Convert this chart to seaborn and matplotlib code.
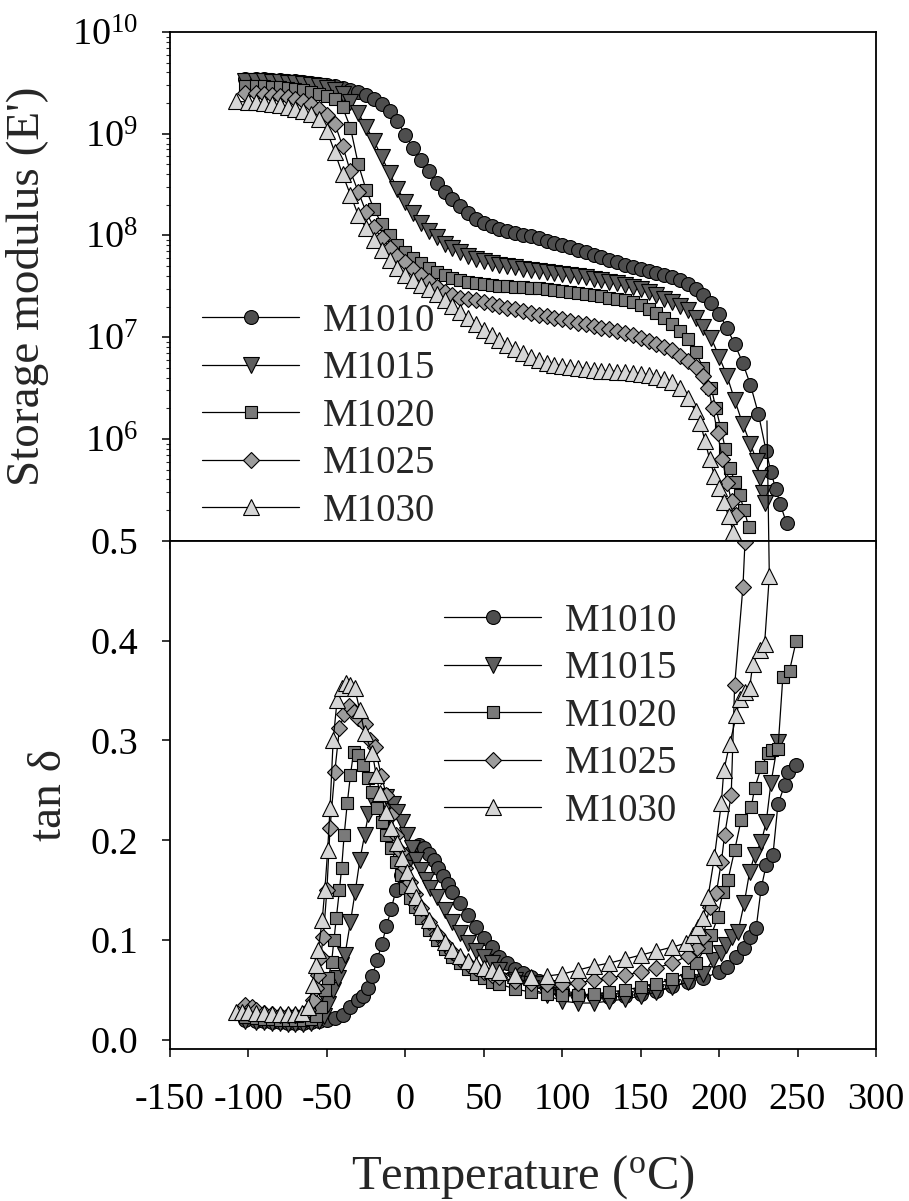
import numpy as np
import matplotlib
matplotlib.use("Agg")
import matplotlib.pyplot as plt
import seaborn as sns
from matplotlib.ticker import FixedLocator, LogLocator, NullFormatter

# ---------------- data: storage modulus (log10 of E', Pa) ----------------
series_names = ["M1010", "M1015", "M1020", "M1025", "M1030"]

t_e_m1010 = [-102, -95, -90, -85, -80, -75, -70, -65, -60, -55, -50, -45, -40, -35, -30, -25, -20, -15, -10, -5,
             0, 5, 10, 15, 20, 25, 30, 35, 40, 45, 50, 55, 60, 65, 70, 75, 80, 85, 90, 95, 100, 105, 110, 115,
             120, 125, 130, 135, 140, 145, 150, 155, 160, 165, 170, 175, 180, 185, 190, 195, 200, 205, 210, 215,
             220, 225, 230, 233, 236, 239, 243]
loge_m1010 = [9.54, 9.54, 9.54, 9.53, 9.53, 9.52, 9.52, 9.51, 9.50, 9.49, 9.48, 9.47, 9.45, 9.43, 9.41, 9.38,
              9.34, 9.29, 9.22, 9.12, 8.99, 8.86, 8.74, 8.63, 8.52, 8.43, 8.36, 8.29, 8.22, 8.16, 8.12, 8.09,
              8.06, 8.04, 8.02, 8.00, 7.99, 7.97, 7.95, 7.93, 7.91, 7.89, 7.86, 7.84, 7.81, 7.79, 7.76, 7.74,
              7.71, 7.69, 7.67, 7.65, 7.63, 7.61, 7.59, 7.56, 7.52, 7.47, 7.41, 7.34, 7.23, 7.09, 6.93, 6.75,
              6.53, 6.25, 5.88, 5.68, 5.51, 5.36, 5.17]

t_e_m1015 = [-102, -95, -90, -85, -80, -75, -70, -65, -60, -55, -50, -45, -40, -35, -30, -25, -20, -15, -10, -5,
             0, 5, 10, 15, 20, 25, 30, 35, 40, 45, 50, 55, 60, 65, 70, 75, 80, 85, 90, 95, 100, 105, 110, 115,
             120, 125, 130, 135, 140, 145, 150, 155, 160, 165, 170, 175, 180, 185, 190, 195, 200, 205, 210, 215,
             220, 224, 226, 228, 229]
loge_m1015 = [9.52, 9.52, 9.52, 9.51, 9.51, 9.50, 9.50, 9.49, 9.48, 9.47, 9.45, 9.43, 9.39, 9.31, 9.20, 9.07,
              8.93, 8.77, 8.61, 8.46, 8.33, 8.22, 8.12, 8.04, 7.98, 7.92, 7.88, 7.84, 7.80, 7.77, 7.75, 7.73,
              7.71, 7.70, 7.69, 7.67, 7.66, 7.65, 7.64, 7.63, 7.62, 7.61, 7.60, 7.59, 7.57, 7.56, 7.54, 7.53,
              7.51, 7.49, 7.47, 7.44, 7.41, 7.38, 7.35, 7.31, 7.27, 7.19, 7.10, 6.99, 6.81, 6.62, 6.38, 6.15,
              5.95, 5.78, 5.62, 5.47, 5.37]

t_e_m1020 = [-102, -95, -90, -85, -80, -75, -70, -65, -60, -55, -50, -45, -40, -35, -30, -25, -20, -15, -10, -5,
             0, 5, 10, 15, 20, 25, 30, 35, 40, 45, 50, 55, 60, 65, 70, 75, 80, 85, 90, 95, 100, 105, 110, 115,
             120, 125, 130, 135, 140, 145, 150, 155, 160, 165, 170, 175, 180, 185, 190, 195, 198, 201, 204, 207,
             210, 213, 216, 219]
loge_m1020 = [9.47, 9.47, 9.47, 9.46, 9.46, 9.45, 9.44, 9.43, 9.41, 9.39, 9.37, 9.34, 9.26, 9.06, 8.70, 8.45,
              8.26, 8.11, 8.00, 7.91, 7.84, 7.78, 7.73, 7.68, 7.64, 7.61, 7.58, 7.56, 7.54, 7.53, 7.52, 7.51,
              7.50, 7.50, 7.49, 7.49, 7.48, 7.48, 7.47, 7.46, 7.45, 7.44, 7.43, 7.42, 7.41, 7.40, 7.39, 7.38,
              7.37, 7.35, 7.32, 7.28, 7.24, 7.19, 7.13, 7.06, 6.98, 6.85, 6.70, 6.50, 6.30, 6.11, 5.90, 5.71,
              5.58, 5.45, 5.30, 5.13]

t_e_m1025 = [-102, -95, -90, -85, -80, -75, -70, -65, -60, -55, -50, -45, -40, -35, -30, -25, -20, -15, -10, -5,
             0, 5, 10, 15, 20, 25, 30, 35, 40, 45, 50, 55, 60, 65, 70, 75, 80, 85, 90, 95, 100, 105, 110, 115,
             120, 125, 130, 135, 140, 145, 150, 155, 160, 165, 170, 175, 180, 185, 190, 193, 196, 199, 202, 205,
             208, 211]
loge_m1025 = [9.40, 9.40, 9.39, 9.38, 9.37, 9.36, 9.34, 9.32, 9.29, 9.24, 9.18, 9.10, 8.88, 8.63, 8.43, 8.23,
              8.08, 7.97, 7.88, 7.80, 7.74, 7.67, 7.61, 7.55, 7.49, 7.44, 7.41, 7.39, 7.38, 7.37, 7.35, 7.33,
              7.31, 7.29, 7.28, 7.26, 7.24, 7.22, 7.21, 7.19, 7.18, 7.16, 7.14, 7.13, 7.11, 7.09, 7.08, 7.06,
              7.04, 7.02, 6.99, 6.96, 6.93, 6.90, 6.87, 6.82, 6.77, 6.71, 6.62, 6.50, 6.30, 6.06, 5.80, 5.57,
              5.39, 5.25]

t_e_m1030 = [-108, -100, -95, -90, -85, -80, -75, -70, -65, -60, -55, -50, -45, -40, -35, -30, -25, -20, -15,
             -10, -5, 0, 5, 10, 15, 20, 25, 30, 35, 40, 45, 50, 55, 60, 65, 70, 75, 80, 85, 90, 95, 100, 105,
             110, 115, 120, 125, 130, 135, 140, 145, 150, 155, 160, 165, 170, 175, 180, 185, 188, 191, 194, 197,
             200, 203, 206, 209]
loge_m1030 = [9.32, 9.31, 9.31, 9.30, 9.29, 9.28, 9.26, 9.24, 9.22, 9.19, 9.14, 9.03, 8.82, 8.60, 8.40, 8.20,
              8.07, 7.96, 7.86, 7.76, 7.68, 7.61, 7.56, 7.51, 7.47, 7.42, 7.37, 7.31, 7.25, 7.19, 7.13, 7.07,
              7.02, 6.97, 6.92, 6.88, 6.84, 6.81, 6.78, 6.75, 6.73, 6.72, 6.71, 6.70, 6.69, 6.68, 6.67, 6.67,
              6.66, 6.66, 6.65, 6.64, 6.63, 6.61, 6.59, 6.56, 6.50, 6.40, 6.27, 6.16, 5.98, 5.80, 5.64, 5.52,
              5.38, 5.24, 5.09]

# ---------------- data: tan delta ----------------
t_d_m1010 = [-102, -95, -90, -85, -80, -75, -70, -65, -60, -55, -50, -45, -40, -35, -30, -27, -24, -21, -18, -15,
             -12, -9, -6, -3, 0, 3, 6, 9, 12, 15, 18, 21, 24, 27, 30, 35, 40, 45, 50, 55, 60, 65, 70, 75, 80, 85,
             90, 95, 100, 110, 120, 130, 140, 150, 160, 170, 180, 190, 200, 205, 211, 216, 219.4, 223.6, 226.8,
             230, 234.3, 237.5, 241.7, 244, 249]
d_m1010 = [0.020, 0.019, 0.019, 0.018, 0.018, 0.017, 0.017, 0.017, 0.018, 0.019, 0.020, 0.022, 0.025, 0.033,
           0.040, 0.044, 0.052, 0.064, 0.080, 0.096, 0.114, 0.131, 0.150, 0.165, 0.178, 0.187, 0.193, 0.195,
           0.192, 0.186, 0.180, 0.172, 0.164, 0.156, 0.148, 0.137, 0.125, 0.113, 0.102, 0.093, 0.083, 0.077,
           0.071, 0.067, 0.063, 0.059, 0.056, 0.053, 0.050, 0.046, 0.044, 0.043, 0.044, 0.046, 0.049, 0.054,
           0.058, 0.062, 0.068, 0.073, 0.083, 0.092, 0.103, 0.112, 0.152, 0.175, 0.185, 0.236, 0.255, 0.268,
           0.275]

t_d_m1015 = [-102, -95, -90, -85, -80, -75, -70, -65, -60, -55, -52, -49, -46, -43, -41, -38.5, -35, -32, -29,
             -26, -23.5, -20, -16, -12, -8, -5, -2, 1, 4, 7, 10, 13, 16, 20, 25, 30, 35, 40, 45, 50, 55, 60, 70,
             80, 90, 100, 110, 120, 130, 140, 150, 160, 170, 180, 190, 196, 201.4, 204.6, 208, 212, 216, 219.4,
             222.6, 226.8, 230, 233, 237.5]
d_m1015 = [0.019, 0.018, 0.018, 0.017, 0.017, 0.016, 0.016, 0.016, 0.017, 0.019, 0.024, 0.036, 0.050, 0.062,
           0.075, 0.085, 0.118, 0.148, 0.180, 0.205, 0.226, 0.237, 0.244, 0.243, 0.236, 0.228, 0.218, 0.205,
           0.192, 0.180, 0.170, 0.160, 0.152, 0.143, 0.130, 0.118, 0.107, 0.097, 0.089, 0.083, 0.077, 0.070,
           0.060, 0.052, 0.045, 0.039, 0.037, 0.037, 0.039, 0.041, 0.044, 0.048, 0.053, 0.058, 0.066, 0.080,
           0.087, 0.095, 0.103, 0.108, 0.137, 0.168, 0.185, 0.198, 0.218, 0.257, 0.298]

t_d_m1020 = [-102, -95, -90, -85, -80, -75, -70, -65, -60, -57, -54, -51, -49, -47, -45.5, -44, -42, -40.6, -39,
             -37, -35, -33, -30, -27, -24, -21, -18, -15, -12, -9, -6, -3, 0, 3, 6, 10, 15, 20, 25, 30, 35, 40,
             45, 50, 55, 60, 70, 80, 90, 100, 110, 120, 130, 140, 150, 160, 170, 180, 185, 191.8, 195, 199.2,
             202.4, 205.6, 209.9, 214, 220.5, 222.6, 226.9, 231.1, 234, 237.5, 240.6, 244.9, 249.2]
d_m1020 = [0.023, 0.022, 0.021, 0.021, 0.020, 0.020, 0.020, 0.020, 0.021, 0.024, 0.033, 0.050, 0.062, 0.078,
           0.100, 0.122, 0.150, 0.172, 0.205, 0.237, 0.265, 0.288, 0.285, 0.275, 0.262, 0.248, 0.232, 0.218,
           0.205, 0.192, 0.178, 0.165, 0.152, 0.142, 0.133, 0.122, 0.110, 0.100, 0.091, 0.083, 0.077, 0.071,
           0.066, 0.062, 0.058, 0.056, 0.051, 0.048, 0.046, 0.045, 0.045, 0.046, 0.048, 0.050, 0.053, 0.056,
           0.061, 0.068, 0.077, 0.093, 0.105, 0.123, 0.148, 0.160, 0.190, 0.220, 0.233, 0.252, 0.273, 0.287,
           0.290, 0.291, 0.363, 0.370, 0.400]

t_d_m1025 = [-102, -98, -95, -90, -85, -80, -75, -70, -65, -62, -59, -57, -55.5, -54, -52.3, -50, -48, -45, -42,
             -39, -36, -33, -30, -26, -22.5, -19.4, -15.2, -12, -9, -6, -3, 0, 3, 6, 10, 15, 20, 25, 30, 35, 40,
             45, 50, 55, 60, 70, 80, 90, 100, 110, 120, 130, 140, 150, 160, 170, 180, 186, 189.7, 194, 198.2,
             201.4, 203.5, 207.7, 209.9, 215.2, 216.5]
d_m1025 = [0.035, 0.033, 0.030, 0.027, 0.026, 0.025, 0.025, 0.025, 0.026, 0.030, 0.040, 0.052, 0.065, 0.083,
           0.103, 0.150, 0.212, 0.268, 0.312, 0.326, 0.334, 0.328, 0.322, 0.316, 0.300, 0.293, 0.264, 0.245,
           0.225, 0.205, 0.188, 0.172, 0.158, 0.146, 0.132, 0.118, 0.106, 0.096, 0.088, 0.081, 0.076, 0.072,
           0.068, 0.065, 0.063, 0.059, 0.057, 0.056, 0.056, 0.057, 0.060, 0.062, 0.065, 0.068, 0.072, 0.077,
           0.084, 0.092, 0.103, 0.133, 0.147, 0.178, 0.205, 0.245, 0.355, 0.454, 0.499]

t_d_m1030 = [-108, -104, -100, -95, -90, -85, -80, -75, -70, -66, -62, -59, -57, -55.5, -53, -51.3, -49.5, -48,
             -46, -43.5, -40.5, -37.5, -35, -32.2, -29, -25.8, -21, -18.5, -16.2, -12, -9, -5.6, -2, 1, 4, 7, 10,
             15, 20, 25, 30, 35, 40, 45, 50, 55, 60, 70, 80, 90, 100, 110, 120, 130, 140, 150, 160, 170, 179,
             183.3, 186.5, 189.7, 192.9, 197, 201.4, 203, 206.7, 211, 213, 216.5, 219.4, 221.5, 225.8, 229, 232,
             230.5]
d_m1030 = [0.028, 0.028, 0.028, 0.027, 0.027, 0.026, 0.026, 0.026, 0.026, 0.027, 0.033, 0.055, 0.075, 0.090,
           0.120, 0.150, 0.190, 0.232, 0.300, 0.340, 0.352, 0.357, 0.355, 0.352, 0.330, 0.307, 0.287, 0.265,
           0.247, 0.228, 0.212, 0.197, 0.182, 0.168, 0.155, 0.143, 0.133, 0.120, 0.108, 0.098, 0.090, 0.084,
           0.079, 0.075, 0.072, 0.070, 0.068, 0.065, 0.063, 0.064, 0.066, 0.070, 0.074, 0.077, 0.081, 0.085,
           0.089, 0.093, 0.097, 0.105, 0.113, 0.122, 0.143, 0.183, 0.237, 0.270, 0.296, 0.325, 0.341, 0.348,
           0.352, 0.377, 0.391, 0.397, 0.4645, 0.62]

x_ticks = [-150, -100, -50, 0, 50, 100, 150, 200, 250, 300]
e_ticks = [1e6, 1e7, 1e8, 1e9, 1e10]
e_tick_labels = [r"$\mathregular{10^{6}}$", r"$\mathregular{10^{7}}$", r"$\mathregular{10^{8}}$",
                 r"$\mathregular{10^{9}}$", r"$\mathregular{10^{10}}$"]
d_ticks = [0.0, 0.1, 0.2, 0.3, 0.4, 0.5]
d_tick_labels = ["0.0", "0.1", "0.2", "0.3", "0.4", "0.5"]

# ---------------- style ----------------
sns.set_theme(style="ticks")
plt.rcParams["font.family"] = ["Liberation Serif", "DejaVu Serif"]
plt.rcParams["mathtext.fontset"] = "custom"
plt.rcParams["mathtext.rm"] = "Liberation Serif"
plt.rcParams["mathtext.it"] = "Liberation Serif:italic"
plt.rcParams["axes.unicode_minus"] = False

markers = ["o", "v", "s", "D", "^"]
fills = ["#4e4e4e", "#5e5e5e", "#7a7a7a", "#9c9c9c", "#d6d6d6"]
msizes = [10, 11, 9, 8, 11]

fig = plt.figure(figsize=(9.09, 12.01), dpi=100, facecolor="white")
ax1 = fig.add_axes([0.187, 0.5498, 0.7767, 0.4236])
ax2 = fig.add_axes([0.187, 0.1266, 0.7767, 0.4232])

top_t = [t_e_m1010, t_e_m1015, t_e_m1020, t_e_m1025, t_e_m1030]
top_v = [loge_m1010, loge_m1015, loge_m1020, loge_m1025, loge_m1030]
bot_t = [t_d_m1010, t_d_m1015, t_d_m1020, t_d_m1025, t_d_m1030]
bot_v = [d_m1010, d_m1015, d_m1020, d_m1025, d_m1030]

for i, name in enumerate(series_names):
    sns.lineplot(x=top_t[i], y=10 ** np.array(top_v[i]), ax=ax1, sort=False, estimator=None, errorbar=None,
                 color="black", lw=0.9, marker=markers[i], markersize=msizes[i], markerfacecolor=fills[i],
                 markeredgecolor="black", markeredgewidth=0.8, label=name)

for i, name in enumerate(series_names):
    kw = {}
    if name == "M1030":
        kw = dict(clip_on=False, markevery=slice(0, len(bot_t[i]) - 1))
    sns.lineplot(x=bot_t[i], y=bot_v[i], ax=ax2, sort=False, estimator=None, errorbar=None,
                 color="black", lw=0.9, marker=markers[i], markersize=msizes[i], markerfacecolor=fills[i],
                 markeredgecolor="black", markeredgewidth=0.8, label=name, **kw)

# ---------------- axes formatting ----------------
for ax in (ax1, ax2):
    ax.set_facecolor("white")
    ax.set_xlim(-150, 300)
    ax.set_xticks(x_ticks)
    for sp in ax.spines.values():
        sp.set_visible(True)
        sp.set_color("black")
        sp.set_linewidth(1.3)
    ax.tick_params(which="major", direction="out", length=6, width=1.1, color="black",
                   top=False, right=False, labelsize=27.5, labelcolor="black")

ax1.set_yscale("log")
ax1.set_ylim(1e5, 1e10)
ax1.yaxis.set_major_locator(FixedLocator(e_ticks))
ax1.set_yticklabels(e_tick_labels)
ax1.yaxis.set_minor_locator(LogLocator(base=10, subs=np.arange(2, 10)))
ax1.yaxis.set_minor_formatter(NullFormatter())
ax1.tick_params(axis="y", which="minor", direction="out", length=3, width=0.8, left=True, right=False)
ax1.tick_params(axis="x", which="minor", bottom=False)
ax1.tick_params(axis="y", which="major", pad=17)
ax1.tick_params(axis="x", labelbottom=False)
ax1.set_xlabel("")
ax1.set_ylabel("Storage modulus (E')", fontsize=34)
ax1.yaxis.set_label_coords(-0.172, 0.5)

ax2.set_ylim(-0.009, 0.5)
ax2.set_yticks(d_ticks)
ax2.set_yticklabels(d_tick_labels)
ax2.tick_params(axis="y", which="major", pad=17)
ax2.tick_params(axis="x", which="major", pad=18)
ax2.set_ylabel("tan δ", fontsize=34)
ax2.yaxis.set_label_coords(-0.140, 0.5)
ax2.set_xlabel(r"Temperature ($\mathregular{^{o}}$C)", fontsize=35, labelpad=26)

leg_kw = dict(frameon=False, fontsize=28, handlelength=2.5, handletextpad=0.6, labelspacing=0.27,
              borderpad=0, borderaxespad=0, numpoints=1, loc="center left")
ax1.legend(bbox_to_anchor=(0.0453, 0.2443), **leg_kw)
ax2.legend(bbox_to_anchor=(0.388, 0.6546), **leg_kw)

fig.savefig("out.png", dpi=100, facecolor="white")
